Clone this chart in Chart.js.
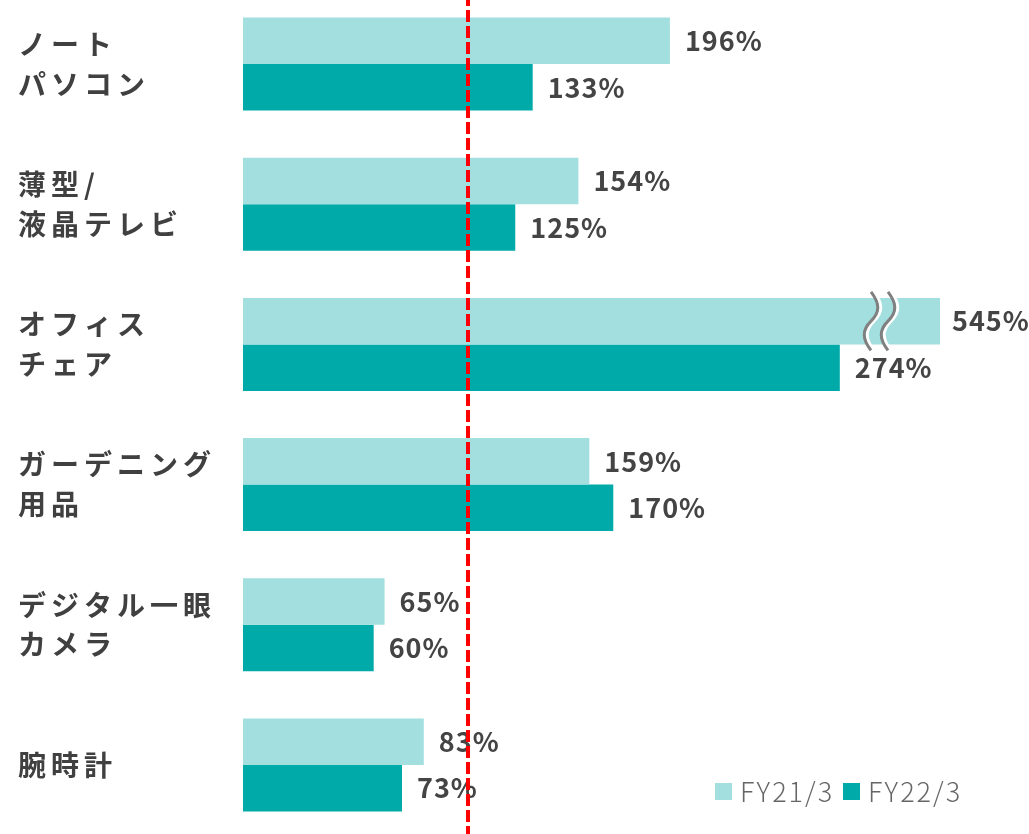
<!DOCTYPE html>
<html lang="ja">
<head>
<meta charset="utf-8">
<script src="https://cdn.jsdelivr.net/npm/chart.js@4.4.1/dist/chart.umd.min.js"></script>
<style>
  html, body { margin: 0; padding: 0; background: #fff; overflow: hidden; }
  #wrap { position: absolute; left: 0; top: -6px; width: 1029px; height: 841px; }
</style>
</head>
<body>
<div id="wrap"><canvas id="chart"></canvas></div>
<script>
const categories = [
    ['ノート', 'パソコン'],
    ['薄型/', '液晶テレビ'],
    ['オフィス', 'チェア'],
    ['ガーデニング', '用品'],
    ['デジタル一眼', 'カメラ'],
    ['腕時計']
];
const seriesNames = ['FY21/3', 'FY22/3'];
const fy21 = [196, 154, 545, 159, 65, 83];
const fy22 = [133, 125, 274, 170, 60, 73];
const axisMax = 320;      // bars beyond this are cut (545%)
const refLine = 103.5;    // red dashed line

const COLORS = ['#a2dfde', '#00aaa9'];
const JP_FONT = "'Noto Sans CJK JP', 'Noto Sans', sans-serif";

const overlayPlugin = {
    id: 'overlay',
    beforeDraw(chart) {
        chart.ctx.letterSpacing = '5px';
    },
    afterDatasetsDraw(chart) {
        const ctx = chart.ctx;
        const area = chart.chartArea;
        const xs = chart.scales.x;

        // value labels
        ctx.save();
        ctx.letterSpacing = '1px';
        ctx.font = `bold 27px ${JP_FONT}`;
        ctx.fillStyle = '#444';
        ctx.textAlign = 'left';
        ctx.textBaseline = 'middle';
        chart.data.datasets.forEach((ds, di) => {
            chart.getDatasetMeta(di).data.forEach((bar, i) => {
                const cut = bar.x > area.right;
                const end = cut ? area.right : bar.x;
                ctx.fillText(ds.data[i] + '%', end + (cut ? 12 : 15), bar.y);
            });
        });
        ctx.restore();

        // break marks on cut bars
        ctx.save();
        chart.getDatasetMeta(0).data.forEach((bar, i) => {
            if (fy21[i] <= axisMax) return;
            const h = bar.height + 12;
            const y0 = bar.y - h / 2;
            [area.right - 69, area.right - 52].forEach(x0 => {
                const wave = (x, color, w) => {
                    ctx.beginPath();
                    ctx.moveTo(x, y0);
                    ctx.bezierCurveTo(x + 9, y0 + h * 0.2, x + 9, y0 + h * 0.35, x, y0 + h * 0.5);
                    ctx.bezierCurveTo(x - 9, y0 + h * 0.65, x - 9, y0 + h * 0.8, x, y0 + h);
                    ctx.strokeStyle = color;
                    ctx.lineWidth = w;
                    ctx.stroke();
                };
                wave(x0 + 3, '#ffffff', 3);
                wave(x0, '#808080', 3);
            });
        });
        ctx.restore();

        // red reference line
        const rx = Math.round(xs.getPixelForValue(refLine));
        ctx.save();
        ctx.strokeStyle = '#ff0000';
        ctx.lineWidth = 4;
        ctx.setLineDash([12, 4]);
        ctx.beginPath();
        ctx.moveTo(rx, area.top);
        ctx.lineTo(rx, area.bottom);
        ctx.stroke();
        ctx.restore();

        // legend, bottom right
        ctx.save();
        ctx.letterSpacing = '2px';
        ctx.font = `300 27px ${JP_FONT}`;
        ctx.textBaseline = 'middle';
        ctx.textAlign = 'left';
        const ly = area.bottom - 44;
        let lx = area.right - 225;
        seriesNames.forEach((name, i) => {
            ctx.fillStyle = COLORS[i];
            ctx.fillRect(lx, ly - 8, 17, 17);
            ctx.fillStyle = '#666';
            ctx.fillText(name, lx + 25, ly + 1);
            lx += 128;
        });
        ctx.restore();
    }
};

new Chart(document.getElementById('chart'), {
    type: 'bar',
    data: {
        labels: categories,
        datasets: [
            { label: seriesNames[0], data: fy21, backgroundColor: COLORS[0] },
            { label: seriesNames[1], data: fy22, backgroundColor: COLORS[1] }
        ]
    },
    options: {
        indexAxis: 'y',
        responsive: true,
        maintainAspectRatio: false,
        animation: false,
        layout: { padding: { left: 18, right: 89, top: 0, bottom: 0 } },
        datasets: { bar: { barPercentage: 1, categoryPercentage: 0.664 } },
        scales: {
            x: { display: false, min: 0, max: axisMax },
            y: {
                grid: { display: false },
                border: { display: false },
                afterFit(scale) {
                    scale.width = 225;
                    scale.paddingTop = 0;
                    scale.paddingBottom = 0;
                },
                ticks: {
                    crossAlign: 'far',
                    color: '#404040',
                    padding: 0,
                    font: { family: JP_FONT, size: 28, weight: 'bold', lineHeight: 1.42 }
                }
            }
        },
        plugins: {
            legend: { display: false },
            tooltip: { enabled: false }
        }
    },
    plugins: [overlayPlugin]
});
</script>
</body>
</html>
